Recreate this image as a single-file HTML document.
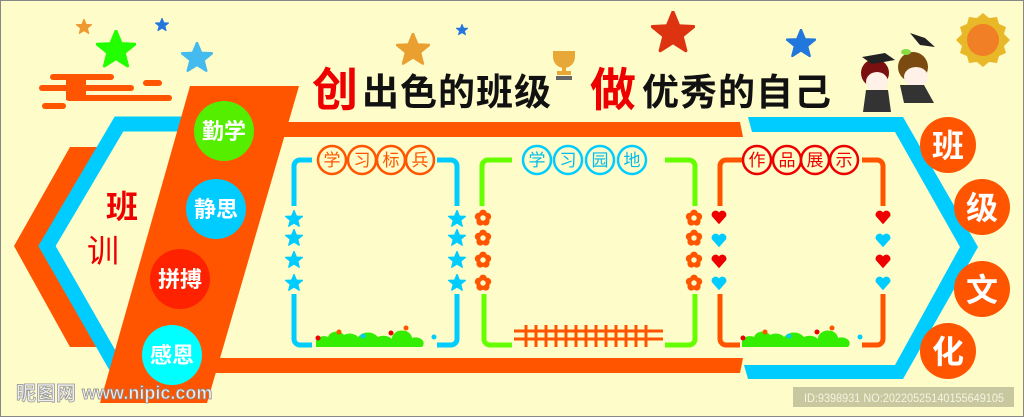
<!DOCTYPE html>
<html><head><meta charset="utf-8"><style>
html,body{margin:0;padding:0;background:#FEFCC8}
svg{display:block}
text{font-family:"Liberation Sans","Noto Sans CJK SC",sans-serif}
</style></head><body>
<svg width="1024" height="417" viewBox="0 0 1024 417" xmlns="http://www.w3.org/2000/svg">
<defs>
<symbol id="st" viewBox="-10 -10 20 20"><polygon points="0,-9.5 2.6,-3.2 9.4,-2.9 4.1,1.4 5.8,8 0,4.3 -5.8,8 -4.1,1.4 -9.4,-2.9 -2.6,-3.2" stroke-linejoin="round" stroke-width="1.5"/></symbol>
<symbol id="fl" viewBox="-10 -10 20 20"><circle cx="0" cy="-5" r="4.3" fill="#FF5500"/><circle cx="4.8" cy="-1.5" r="4.3" fill="#FF5500"/><circle cx="3" cy="4.2" r="4.3" fill="#FF5500"/><circle cx="-3" cy="4.2" r="4.3" fill="#FF5500"/><circle cx="-4.8" cy="-1.5" r="4.3" fill="#FF5500"/><circle r="3" fill="#FEFCC8"/></symbol>
<symbol id="ht" viewBox="-10 -10 20 20"><path d="M0,8 L-8,-1 A4.5,4.5 0 0 1 0,-5 A4.5,4.5 0 0 1 8,-1 Z"/></symbol>
</defs>
<rect x="0.5" y="0.5" width="1023" height="416" fill="#FEFCC8" stroke="#888" stroke-width="1"/>

<g fill="#FF5500">
<rect x="50" y="74" width="64" height="6" rx="3"/>
<rect x="39" y="85" width="95" height="6" rx="3"/>
<rect x="66" y="80" width="20" height="20"/>
<rect x="143" y="80" width="19" height="6" rx="3"/>
<rect x="66" y="95" width="106" height="6" rx="3"/>
<rect x="42" y="103" width="24" height="6" rx="3"/>
</g>
<use href="#st" x="76" y="19" width="16" height="16" fill="#EE9A30" stroke="#EE9A30"/>
<use href="#st" x="155" y="18" width="14" height="14" fill="#2277DD" stroke="#2277DD"/>
<use href="#st" x="96" y="30" width="40" height="40" fill="#22FF00" stroke="#22FF00"/>
<use href="#st" x="181" y="42" width="32" height="32" fill="#44BBEE" stroke="#44BBEE"/>
<use href="#st" x="396" y="33" width="34" height="34" fill="#EAA030" stroke="#EAA030"/>
<use href="#st" x="456" y="24" width="12" height="12" fill="#2277DD" stroke="#2277DD"/>
<use href="#st" x="651" y="11" width="44" height="44" fill="#DD3311" stroke="#DD3311"/>
<use href="#st" x="786" y="29" width="30" height="30" fill="#2277DD" stroke="#2277DD"/>
<g fill="#E8A838">
<path d="M553,51 h22 v6 a11,11 0 0 1 -22,0 z"/>
<rect x="562" y="66" width="4" height="5"/>
<rect x="557" y="71" width="14" height="4"/>
</g>
<rect x="556" y="76" width="16" height="4" fill="#666"/>
<g transform="translate(983,40)">
<polygon fill="#E9B828" points="0,-27 6,-22 14,-23 16,-16 23,-13 21,-6 27,0 21,6 23,13 16,16 14,23 6,22 0,27 -6,22 -14,23 -16,16 -23,13 -21,6 -27,0 -21,-6 -23,-13 -16,-16 -14,-23 -6,-22"/>
<circle r="16" fill="#F07F25"/>
</g>
<g>
<circle cx="875" cy="73" r="14" fill="#7A1010"/>
<ellipse cx="877" cy="82" rx="11" ry="10" fill="#FFF0E8"/>
<polygon points="862,57 885,53 895,60 872,64" fill="#222"/>
<path d="M866,90 h22 l3,22 h-28 z" fill="#333"/>
<circle cx="913" cy="67" r="15" fill="#7A4A10"/>
<ellipse cx="916" cy="77" rx="12" ry="10" fill="#FFF0E8"/>
<ellipse cx="906" cy="52" rx="5" ry="3" fill="#88DD44"/>
<path d="M900,85 h24 l10,18 h-30 z" fill="#333"/>
<polygon points="910,33 925,38 935,47 920,45" fill="#222"/>
</g>

<text x="312" y="106" font-size="46" font-weight="bold" fill="#EE0000">创</text>
<text x="362" y="105" font-size="37" font-weight="bold" fill="#111" letter-spacing="1">出色的班级</text>
<text x="590" y="106" font-size="46" font-weight="bold" fill="#EE0000">做</text>
<text x="642" y="105" font-size="37" font-weight="bold" fill="#111" letter-spacing="1">优秀的自己</text>

<polygon points="70,147 110,147 54,246 110,347 70,347 14,246" fill="#FF5500"/>
<polyline points="190,124 119,124 47,246 118,370" fill="none" stroke="#00CCFF" stroke-width="15"/>
<polygon points="280,122 740,122 743,137 280,137" fill="#FF5500"/>
<polygon points="210,358 743,358 740,373 210,373" fill="#FF5500"/>
<polygon points="190,86 299,86 207,403 100,403" fill="#FF5500"/>
<text x="106" y="218" font-size="32" fill="#EE0000" font-weight="bold">班</text>
<text x="87" y="262" font-size="32" fill="#EE0000">训</text>
<circle cx="224" cy="131" r="30" fill="#55EE00"/>
<circle cx="216" cy="209" r="30" fill="#00CCFF"/>
<circle cx="180" cy="279" r="30" fill="#FF2200"/>
<circle cx="172" cy="355" r="30" fill="#00FFFF"/>
<g fill="#fff" font-size="22" font-weight="bold" text-anchor="middle">
<text x="224" y="139">勤学</text>
<text x="216" y="217">静思</text>
<text x="180" y="287">拼搏</text>
<text x="172" y="363">感恩</text>
</g>

<polygon points="748,117 903,117 978,247 903,379 748,379 744,365 895,365 960,247 895,132 752,132" fill="#00CCFF"/>
<g fill="#FF5500">
<circle cx="948" cy="145" r="28"/><circle cx="982" cy="207" r="28"/>
<circle cx="982" cy="289" r="28"/><circle cx="948" cy="351" r="28"/>
</g>
<g fill="#fff" font-size="32" font-weight="bold" text-anchor="middle">
<text x="948" y="157">班</text><text x="982" y="219">级</text>
<text x="982" y="301">文</text><text x="948" y="363">化</text>
</g>

<g fill="none" stroke="#00CCFF" stroke-width="5">
<path d="M312,160 h-12 a6,6 0 0 0 -6,6 v40"/>
<path d="M294,294 v45 a6,6 0 0 0 6,6 h12"/>
<path d="M437,160 h14 a6,6 0 0 1 6,6 v40"/>
<path d="M457,294 v45 a6,6 0 0 1 -6,6 h-14"/>
</g>
<g fill="none" stroke="#66FF00" stroke-width="5">
<path d="M512,160 h-24 a6,6 0 0 0 -6,6 v40"/>
<path d="M484,294 v45 a6,6 0 0 0 6,6 h22"/>
<path d="M665,160 h24 a6,6 0 0 1 6,6 v40"/>
<path d="M695,294 v45 a6,6 0 0 1 -6,6 h-24"/>
</g>
<g fill="none" stroke="#FF5500" stroke-width="5">
<path d="M742,160 h-16 a6,6 0 0 0 -6,6 v40"/>
<path d="M720,294 v45 a6,6 0 0 0 6,6 h14"/>
<path d="M862,160 h15 a6,6 0 0 1 6,6 v40"/>
<path d="M883,294 v45 a6,6 0 0 1 -6,6 h-15"/>
</g>
<g fill="#FEFCC8" stroke-width="2.5">
<g stroke="#FF5500"><circle cx="332" cy="160" r="14"/><circle cx="362" cy="160" r="14"/><circle cx="391" cy="160" r="14"/><circle cx="420" cy="160" r="14"/></g>
<g stroke="#00CCFF"><circle cx="537" cy="160" r="14"/><circle cx="568" cy="160" r="14"/><circle cx="600" cy="160" r="14"/><circle cx="632" cy="160" r="14"/></g>
<g stroke="#EE0000"><circle cx="757" cy="160" r="14"/><circle cx="787" cy="160" r="14"/><circle cx="815" cy="160" r="14"/><circle cx="844" cy="160" r="14"/></g>
</g>
<g font-size="17" text-anchor="middle">
<g fill="#FF5500"><text x="332" y="166">学</text><text x="362" y="166">习</text><text x="391" y="166">标</text><text x="420" y="166">兵</text></g>
<g fill="#00BBEE"><text x="537" y="166">学</text><text x="568" y="166">习</text><text x="600" y="166">园</text><text x="632" y="166">地</text></g>
<g fill="#EE0000"><text x="757" y="166">作</text><text x="787" y="166">品</text><text x="815" y="166">展</text><text x="844" y="166">示</text></g>
</g>
<g fill="#00CCFF" stroke="#00CCFF">
<use href="#st" x="285" y="210" width="18" height="18"/><use href="#st" x="285" y="229" width="18" height="18"/><use href="#st" x="285" y="251" width="18" height="18"/><use href="#st" x="285" y="274" width="18" height="18"/>
<use href="#st" x="448" y="210" width="18" height="18"/><use href="#st" x="448" y="229" width="18" height="18"/><use href="#st" x="448" y="251" width="18" height="18"/><use href="#st" x="448" y="274" width="18" height="18"/>
</g>
<use href="#fl" x="474" y="209" width="18" height="18"/><use href="#fl" x="474" y="229" width="18" height="18"/><use href="#fl" x="474" y="251" width="18" height="18"/><use href="#fl" x="474" y="274" width="18" height="18"/>
<use href="#fl" x="685" y="209" width="18" height="18"/><use href="#fl" x="685" y="229" width="18" height="18"/><use href="#fl" x="685" y="251" width="18" height="18"/><use href="#fl" x="685" y="274" width="18" height="18"/>
<use href="#ht" x="710" y="208" width="18" height="18" fill="#EE0000"/><use href="#ht" x="710" y="231" width="18" height="18" fill="#00CCFF"/><use href="#ht" x="710" y="252" width="18" height="18" fill="#EE0000"/><use href="#ht" x="710" y="274" width="18" height="18" fill="#00CCFF"/>
<use href="#ht" x="874" y="208" width="18" height="18" fill="#EE0000"/><use href="#ht" x="874" y="231" width="18" height="18" fill="#00CCFF"/><use href="#ht" x="874" y="252" width="18" height="18" fill="#EE0000"/><use href="#ht" x="874" y="274" width="18" height="18" fill="#00CCFF"/>

<g fill="#33EE00">
<path d="M316,347 v-6 a8,6 0 0 1 12,-4 a9,8 0 0 1 16,-2 a9,6 0 0 1 14,2 a12,10 0 0 1 20,0 a10,7 0 0 1 14,2 a10,8 0 0 1 20,-1 a8,6 0 0 1 10,9 z"/>
<path d="M742,347 v-6 a8,6 0 0 1 12,-4 a9,8 0 0 1 16,-2 a9,6 0 0 1 14,2 a12,10 0 0 1 20,0 a10,7 0 0 1 14,2 a10,8 0 0 1 20,-1 a8,6 0 0 1 10,9 z"/>
</g>
<g fill="#EE0000"><circle cx="318" cy="338" r="2.5"/><circle cx="391" cy="333" r="2.5"/><circle cx="743" cy="338" r="2.5"/><circle cx="817" cy="332" r="2.5"/></g>
<g fill="#FF5500"><circle cx="339" cy="332" r="2.5"/><circle cx="406" cy="328" r="2.5"/><circle cx="765" cy="332" r="2.5"/><circle cx="832" cy="328" r="2.5"/></g>
<g fill="#00CCFF"><circle cx="363" cy="336" r="2.5"/><circle cx="434" cy="337" r="2.5"/><circle cx="789" cy="336" r="2.5"/><circle cx="860" cy="337" r="2.5"/></g>
<g stroke="#FF5500" stroke-width="3">
<line x1="514" y1="331" x2="663" y2="331"/><line x1="514" y1="339" x2="663" y2="339"/>
<path d="M526,325v22M536,325v22M546,325v22M556,325v22M566,325v22M576,325v22M586,325v22M596,325v22M606,325v22M616,325v22M626,325v22M636,325v22M646,325v22"/>
</g>

<text x="16" y="400" font-size="20" fill="#eee" stroke="#999" stroke-width="0.8" font-weight="bold">昵图网</text>
<text x="82" y="399" font-size="18" fill="#eee" stroke="#888" stroke-width="0.7" font-weight="bold">www.nipic.com</text>
<rect x="793" y="387" width="221" height="20" fill="#C8C8A0"/>
<text x="804" y="402" font-size="12" fill="#F4F4E0" textLength="200" lengthAdjust="spacingAndGlyphs">ID:9398931 NO:20220525140155649105</text>
</svg>
</body></html>
